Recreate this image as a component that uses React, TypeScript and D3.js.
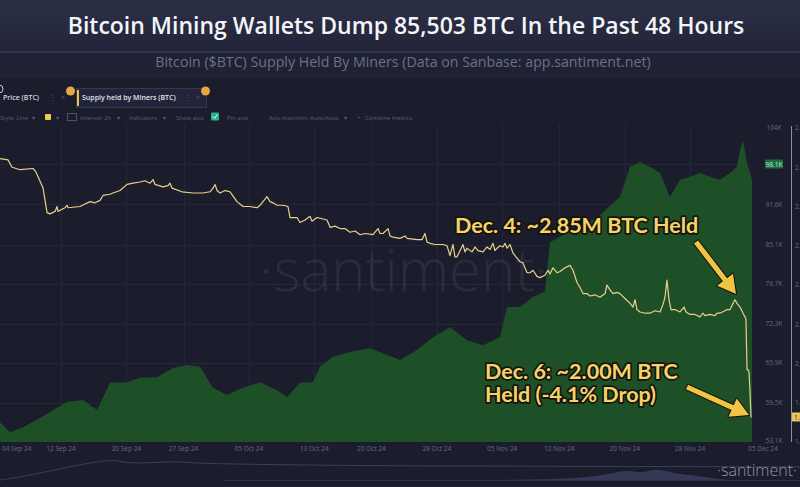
import React, { useRef, useEffect } from "react";
import * as d3 from "d3";

const W = 800;
const H = 487;

// x values are days counted from 1 Sep 2024 (UTC)
// price of BTC, thousand USD
const priceSeries: [number, number][] = [
  [3.53, 56.3], [4.76, 54.7], [6.35, 55.5], [8.06, 56.7], [11.73, 59.6], [13.69, 59.9],
  [15.41, 58.3], [16.99, 62.7], [19.08, 62.8], [20.67, 63.5], [22.75, 63.6], [24.71, 65.1],
  [26.42, 65.6], [28.01, 65.3], [29.6, 61.9], [31.32, 60.7], [33.28, 61.9], [35.36, 62.8],
  [37.44, 61.5], [38.66, 60.4], [40.25, 62.7], [41.84, 62.8], [42.7, 65.3], [44.29, 66.9],
  [46.37, 67.7], [48.82, 68.3], [50.41, 67.5], [52.49, 66.4], [54.57, 68.0], [56.53, 70.1],
  [58.61, 71.7], [60.69, 69.6], [62.65, 68.8], [64.73, 70.1], [65.59, 75.0], [67.18, 75.0],
  [68.77, 76.6], [70.24, 77.5], [70.85, 85.5], [72.93, 87.0], [74.89, 88.0], [76.97, 89.9],
  [79.42, 92.8], [80.65, 97.7], [81.87, 98.5], [83.09, 97.7], [84.32, 96.7], [85.54, 92.8],
  [86.77, 95.6], [87.99, 96.1], [89.21, 96.7], [90.44, 96.1], [91.66, 95.6], [92.89, 96.7],
  [93.74, 97.7], [94.11, 100.4], [94.48, 102.0], [94.97, 98.3], [95.58, 95.6],
];

// supply held by miners, thousand BTC
const supplySeries: [number, number][] = [
  [3.53, 2175], [4.51, 2174], [5.0, 2168], [5.98, 2166], [7.57, 2167], [7.94, 2164], [8.8, 2151],
  [9.29, 2131], [9.65, 2130], [10.27, 2132], [10.51, 2136], [10.63, 2132], [10.88, 2133],
  [11.49, 2135], [11.73, 2137], [11.86, 2135], [13.33, 2136], [13.94, 2138], [14.55, 2140],
  [15.16, 2139], [15.77, 2141], [16.14, 2145], [16.99, 2146], [17.37, 2147], [18.22, 2149],
  [19.08, 2154], [19.81, 2155], [20.67, 2156], [21.28, 2157], [21.89, 2155], [22.26, 2158],
  [22.51, 2154], [23.48, 2152], [24.1, 2153], [24.34, 2155], [24.59, 2151], [25.81, 2148],
  [27.16, 2147], [28.38, 2147], [29.24, 2148], [29.6, 2151], [29.85, 2154], [30.1, 2149],
  [30.46, 2147], [31.07, 2149], [31.69, 2148], [32.54, 2140], [33.28, 2136], [34.13, 2136],
  [34.99, 2135], [35.36, 2137], [36.21, 2144], [36.58, 2140], [36.95, 2139], [37.44, 2137],
  [38.17, 2137], [38.78, 2136], [39.03, 2127], [39.89, 2127], [40.25, 2123], [40.87, 2125],
  [41.48, 2128], [41.72, 2124], [42.33, 2127], [42.95, 2126], [43.56, 2125], [43.93, 2119],
  [44.54, 2120], [45.15, 2118], [45.76, 2118], [46.37, 2115], [46.99, 2116], [47.6, 2113],
  [48.21, 2114], [49.19, 2113], [49.8, 2118], [50.05, 2114], [50.41, 2114], [51.03, 2118],
  [51.27, 2112], [51.64, 2111], [52.49, 2110], [53.11, 2112], [53.35, 2110], [54.57, 2109],
  [55.19, 2109], [55.55, 2114], [55.8, 2107], [56.17, 2106], [56.78, 2105], [57.39, 2105],
  [57.76, 2105], [58.25, 2104], [58.61, 2096], [58.98, 2105], [59.22, 2095], [59.47, 2095],
  [59.84, 2100], [60.2, 2105], [60.45, 2099], [60.69, 2102], [61.31, 2099], [61.67, 2103],
  [62.04, 2100], [62.65, 2099], [63.14, 2103], [63.51, 2101], [63.88, 2106], [64.12, 2100],
  [64.37, 2102], [64.73, 2104], [65.1, 2103], [65.35, 2106], [65.59, 2102], [65.96, 2105],
  [66.33, 2098], [66.82, 2094], [67.18, 2091], [67.55, 2090], [68.04, 2082], [68.41, 2082],
  [68.77, 2084], [69.26, 2079], [69.63, 2078], [70.24, 2080], [70.61, 2084], [70.85, 2081],
  [71.22, 2086], [71.71, 2082], [72.08, 2083], [72.69, 2086], [73.3, 2088], [73.67, 2084],
  [74.16, 2074], [74.53, 2070], [74.89, 2065], [75.38, 2065], [75.75, 2063], [76.36, 2064],
  [76.97, 2062], [77.59, 2065], [77.83, 2072], [78.2, 2068], [78.56, 2065], [79.05, 2066],
  [79.42, 2065], [80.03, 2061], [80.65, 2057], [81.01, 2054], [81.26, 2060], [81.5, 2052],
  [81.87, 2050], [82.48, 2049], [83.09, 2049], [83.7, 2051], [84.32, 2050], [84.68, 2056],
  [84.93, 2062], [85.17, 2076], [85.42, 2060], [85.66, 2052], [86.15, 2052], [86.77, 2050],
  [87.26, 2054], [87.5, 2050], [87.99, 2048], [88.6, 2048], [89.21, 2046], [89.58, 2049],
  [89.82, 2047], [90.44, 2048], [91.05, 2047], [91.29, 2049], [91.66, 2049], [92.27, 2051],
  [92.52, 2052], [92.89, 2052], [93.25, 2057], [93.5, 2060], [93.74, 2057], [94.11, 2054],
  [94.48, 2049], [94.72, 2046], [94.84, 2044], [94.97, 2003], [95.09, 2003], [95.21, 2001],
  [95.33, 1986], [95.46, 1964],
];

const priceTicks = [104, 98.1, 91.6, 85.1, 78.7, 72.3, 65.9, 59.5, 53.1];
const supplyTicks = [2200, 2168, 2136, 2104, 2072, 2040, 2008, 1976, 1944];
const dateTicks = [
  "2024-09-04", "2024-09-12", "2024-09-20", "2024-09-27", "2024-10-05", "2024-10-13",
  "2024-10-20", "2024-10-28", "2024-11-05", "2024-11-12", "2024-11-20", "2024-11-28", "2024-12-05",
];

// navigator strip under the chart, position in % of history, level 0..1
const navLine: [number, number][] = [
  [0, 0.08], [4, 0.29], [8.4, 0.62], [12.5, 0.87], [14.6, 0.92], [15.6, 0.79], [18.8, 0.79],
  [22, 0.87], [23.8, 0.79], [29, 0.75], [37.5, 0.71], [50, 0.67], [75, 0.65], [100, 0.63],
];
const navHills: [number, number][] = [
  [56, 0.08], [62.5, 0.08], [70.9, 0.12], [75.9, 0.29], [78.4, 0.54], [80, 0.33], [81.6, 0.54],
  [82.9, 0.5], [84.6, 0.33], [86.6, 0.29], [89.6, 0.12], [91.6, 0.08],
];

const day0 = Date.UTC(2024, 8, 1);
const toDate = (d: number) => new Date(day0 + d * 864e5);

export default function App() {
  const svgRef = useRef<SVGSVGElement>(null);

  useEffect(() => {
    const svg = d3.select(svgRef.current);
    svg.selectAll("*").remove();

    const plotL = 0, plotR = 752, plotT = 124, plotB = 442;

    const x = d3.scaleUtc()
      .domain([toDate(3.53), toDate(95.58)])
      .range([plotL, plotR]);
    const yPrice = d3.scaleLinear().domain([53.1, 104]).range([442, 128]);
    const ySupply = d3.scaleLinear().domain([1944, 2200]).range([442, 128]);

    const defs = svg.append("defs");
    const grad = defs.append("linearGradient")
      .attr("id", "hdr").attr("x1", 0).attr("y1", 0).attr("x2", 0).attr("y2", 1);
    grad.append("stop").attr("offset", "0%").attr("stop-color", "#2c3047");
    grad.append("stop").attr("offset", "100%").attr("stop-color", "#222539");
    defs.append("clipPath").attr("id", "plot")
      .append("rect").attr("x", plotL).attr("y", plotT)
      .attr("width", plotR - plotL).attr("height", plotB - plotT);

    // background + header
    svg.append("rect").attr("width", W).attr("height", H).attr("fill", "#1b1d2d");
    svg.append("rect").attr("width", W).attr("height", 52).attr("fill", "url(#hdr)");
    svg.append("rect").attr("y", 52).attr("width", W).attr("height", 26).attr("fill", "#1f2234");
    svg.append("line").attr("x1", 0).attr("x2", W).attr("y1", 52).attr("y2", 52)
      .attr("stroke", "#3a3e56").attr("stroke-width", 1.5);

    svg.append("text")
      .attr("x", W / 2 + 6).attr("y", 34)
      .attr("text-anchor", "middle")
      .attr("font-family", "'Open Sans', sans-serif")
      .attr("font-weight", 600)
      .attr("font-size", 23)
      .attr("fill", "#f4f5f8")
      .text("Bitcoin Mining Wallets Dump 85,503 BTC In the Past 48 Hours");

    svg.append("text")
      .attr("x", W / 2 + 3).attr("y", 67)
      .attr("text-anchor", "middle")
      .attr("font-family", "'Open Sans', sans-serif")
      .attr("font-size", 14.2)
      .attr("fill", "#6c7088")
      .text("Bitcoin ($BTC) Supply Held By Miners (Data on Sanbase: app.santiment.net)");

    // toolbar
    const tb = svg.append("g")
      .attr("font-family", "'Open Sans', sans-serif");
    tb.append("circle").attr("cx", -1).attr("cy", 89).attr("r", 4)
      .attr("fill", "none").attr("stroke", "#c8cad6").attr("stroke-width", 1);
    tb.append("text").attr("x", 3).attr("y", 100).attr("font-size", 7).attr("font-weight", 600)
      .attr("fill", "#d3d5df").text("Price (BTC)");
    tb.append("text").attr("x", 49).attr("y", 100).attr("font-size", 7).attr("fill", "#555a70").text("⋮");
    tb.append("text").attr("x", 61).attr("y", 100).attr("font-size", 7).attr("fill", "#555a70").text("×");
    tb.append("rect").attr("x", 76.5).attr("y", 88.5).attr("width", 130).attr("height", 19)
      .attr("fill", "#22253a").attr("stroke", "#34384e");
    tb.append("rect").attr("x", 77).attr("y", 90).attr("width", 2).attr("height", 16).attr("fill", "#e7c15a");
    tb.append("text").attr("x", 82).attr("y", 100).attr("font-size", 7).attr("font-weight", 600)
      .attr("fill", "#e2e4ec").text("Supply held by Miners (BTC)");
    tb.append("text").attr("x", 184).attr("y", 100).attr("font-size", 7).attr("fill", "#555a70").text("⋮");
    tb.append("text").attr("x", 196).attr("y", 100).attr("font-size", 7).attr("fill", "#555a70").text("×");
    tb.append("circle").attr("cx", 70.5).attr("cy", 91).attr("r", 4.5).attr("fill", "#e8a640");
    tb.append("circle").attr("cx", 205.5).attr("cy", 91).attr("r", 4.5).attr("fill", "#e8a640");

    const opt = tb.append("g").attr("font-size", 6).attr("fill", "#5b5f75");
    const optText: [number, string][] = [
      [0, "Style: Line"], [32, "▾"], [56, "▾"], [80, "Interval: 2h"], [117, "▾"],
      [129, "Indicators"], [163, "▾"], [176, "Show axis"], [227, "Pin axis"],
      [269, "Axis max/min: Auto/Auto"], [344, "▾"], [357, "+"], [365, "Combine metrics"],
    ];
    opt.selectAll("text").data(optText).join("text")
      .attr("x", d => d[0]).attr("y", 119.5).text(d => d[1]);
    tb.append("rect").attr("x", 45).attr("y", 114).attr("width", 6).attr("height", 6)
      .attr("rx", 1).attr("fill", "#e8c95a");
    tb.append("rect").attr("x", 67.5).attr("y", 113.5).attr("width", 9).attr("height", 7)
      .attr("fill", "none").attr("stroke", "#5b5f75").attr("stroke-width", 0.8);
    tb.append("rect").attr("x", 211).attr("y", 112.5).attr("width", 8).attr("height", 8)
      .attr("rx", 1).attr("fill", "#27b48a");
    tb.append("path").attr("d", "M212.8,116.5 L214.5,118.3 L217.4,114.6")
      .attr("fill", "none").attr("stroke", "#fff").attr("stroke-width", 1);

    // grid
    const parse = d3.utcParse("%Y-%m-%d");
    const tickDates = dateTicks.map(s => parse(s) as Date);
    const grid = svg.append("g").attr("stroke", "#24273a").attr("stroke-width", 1);
    grid.selectAll("line.v").data(tickDates.slice(1, -1)).join("line")
      .attr("class", "v")
      .attr("x1", d => Math.round(x(d)) + 0.5).attr("x2", d => Math.round(x(d)) + 0.5)
      .attr("y1", plotT).attr("y2", plotB);
    grid.selectAll("line.h").data(priceTicks.slice(1, -1)).join("line")
      .attr("class", "h")
      .attr("x1", plotL).attr("x2", plotR)
      .attr("y1", d => Math.round(yPrice(d)) + 0.5).attr("y2", d => Math.round(yPrice(d)) + 0.5);

    // watermark
    svg.append("text")
      .attr("x", 404).attr("y", 291)
      .attr("text-anchor", "middle")
      .attr("font-family", "'Open Sans', sans-serif")
      .attr("font-weight", 300)
      .attr("font-size", 58)
      .attr("fill", "#ffffff")
      .attr("fill-opacity", 0.07)
      .text("·santiment·");

    const plot = svg.append("g").attr("clip-path", "url(#plot)");

    const area = d3.area<[number, number]>()
      .x(d => x(toDate(d[0])))
      .y0(plotB)
      .y1(d => yPrice(d[1]));
    plot.append("path")
      .datum(priceSeries)
      .attr("d", area)
      .attr("fill", "#1e5027");

    const line = d3.line<[number, number]>()
      .x(d => x(toDate(d[0])))
      .y(d => ySupply(d[1]));
    plot.append("path")
      .datum(supplySeries)
      .attr("d", line)
      .attr("fill", "none")
      .attr("stroke", "#e8d08c")
      .attr("stroke-width", 1.2)
      .attr("stroke-linejoin", "round");

    // x axis labels
    const fmtDate = d3.utcFormat("%d %b %y");
    const xl = svg.append("g")
      .attr("font-family", "'Open Sans', sans-serif")
      .attr("font-size", 6.5)
      .attr("fill", "#656a80");
    xl.selectAll("text").data(tickDates).join("text")
      .attr("x", (d, i) => i === 0 ? Math.max(x(d), 2) : i === tickDates.length - 1 ? x(d) + 1 : x(d))
      .attr("y", 451)
      .attr("text-anchor", (d, i) => i === 0 || i === tickDates.length - 1 ? "start" : "middle")
      .text(d => fmtDate(d));

    // price axis (right)
    const fmtK = (v: number) => (v >= 100 ? d3.format(".0f")(v) : d3.format(".1f")(v)) + "K";
    const yl = svg.append("g")
      .attr("font-family", "'Open Sans', sans-serif")
      .attr("font-size", 6.5);
    yl.selectAll("rect").data(priceTicks.filter(v => v === 98.1)).join("rect")
      .attr("x", 765).attr("y", d => yPrice(d) - 5)
      .attr("width", 18).attr("height", 9).attr("rx", 1)
      .attr("fill", "#1f6b43");
    yl.selectAll("text").data(priceTicks).join("text")
      .attr("x", 774).attr("y", d => Math.min(yPrice(d) + 2.3, 442.5))
      .attr("text-anchor", "middle")
      .attr("fill", d => d === 98.1 ? "#b5f0c8" : "#656a80")
      .text(fmtK);

    // supply axis (cut off at the edge)
    svg.append("line")
      .attr("x1", 791.5).attr("x2", 791.5).attr("y1", 126).attr("y2", 442)
      .attr("stroke", "#8d8f9c").attr("stroke-width", 1);
    const sl = svg.append("g")
      .attr("font-family", "'Open Sans', sans-serif")
      .attr("font-size", 6.5)
      .attr("fill", "#656a80");
    sl.selectAll("text").data(supplyTicks).join("text")
      .attr("x", 795).attr("y", d => ySupply(d) + 2.3)
      .text(d => d3.format(".2f")(d / 1000) + "M");
    const lastSupply = supplySeries[supplySeries.length - 1][1];
    svg.append("rect")
      .attr("x", 792).attr("y", ySupply(lastSupply) - 5)
      .attr("width", 10).attr("height", 9).attr("fill", "#e6c75a");
    svg.append("text")
      .attr("x", 794).attr("y", ySupply(lastSupply) + 2.3)
      .attr("font-family", "'Open Sans', sans-serif")
      .attr("font-size", 6.5).attr("fill", "#1b1d2d")
      .text(d3.format(".2f")(lastSupply / 1000) + "M");

    // navigator strip
    const nx = d3.scaleLinear().domain([0, 100]).range([0, W]);
    const ny = d3.scaleLinear().domain([0, 1]).range([482, 458]);
    svg.append("path")
      .datum(navHills)
      .attr("d", d3.area<[number, number]>().x(d => nx(d[0])).y0(481).y1(d => ny(d[1])).curve(d3.curveBasis))
      .attr("fill", "#333954");
    svg.append("line")
      .attr("x1", nx(28)).attr("x2", W).attr("y1", 480.5).attr("y2", 480.5)
      .attr("stroke", "#2e3248");
    svg.append("path")
      .datum(navLine)
      .attr("d", d3.line<[number, number]>().x(d => nx(d[0])).y(d => ny(d[1])).curve(d3.curveBasis))
      .attr("fill", "none")
      .attr("stroke", "#3a3f58")
      .attr("stroke-width", 1);
    svg.append("text")
      .attr("x", 757).attr("y", 476)
      .attr("text-anchor", "middle")
      .attr("font-family", "'Open Sans', sans-serif")
      .attr("font-weight", 300)
      .attr("font-size", 16)
      .attr("fill", "#9095aa")
      .text("·santiment·");

    // annotations
    const note = svg.append("g")
      .attr("font-family", "Lato, 'Open Sans', sans-serif")
      .attr("font-weight", 700)
      .attr("font-size", 21.5)
      .attr("fill", "#f6d36a")
      .attr("stroke", "#15130c")
      .attr("stroke-width", 3.5)
      .attr("stroke-linejoin", "round")
      .attr("paint-order", "stroke");
    note.append("text").attr("x", 455).attr("y", 233).text("Dec. 4: ~2.85M BTC Held");
    note.append("text").attr("x", 485).attr("y", 379).text("Dec. 6: ~2.00M BTC");
    note.append("text").attr("x", 485).attr("y", 402).text("Held (-4.1% Drop)");

    const arrow = (x1: number, y1: number, x2: number, y2: number) => {
      const a = Math.atan2(y2 - y1, x2 - x1);
      const len = Math.hypot(x2 - x1, y2 - y1);
      const head = 18, half = 10, sw = 2.6;
      const g = svg.append("g")
        .attr("transform", `translate(${x1},${y1}) rotate(${(a * 180) / Math.PI})`);
      const p = `M0,${-sw} L${len - head},${-sw} L${len - head},${-half} L${len},0 L${len - head},${half} L${len - head},${sw} L0,${sw} Z`;
      g.append("path").attr("d", p)
        .attr("fill", "#f2c443")
        .attr("stroke", "#15130c").attr("stroke-width", 2).attr("stroke-linejoin", "round")
        .attr("paint-order", "stroke");
    };
    arrow(696, 242, 736, 294);
    arrow(687, 387, 749, 415);
  }, []);

  return (
    <svg
      ref={svgRef}
      width={W}
      height={H}
      style={{ position: "fixed", left: 0, top: 0, display: "block" }}
    />
  );
}
